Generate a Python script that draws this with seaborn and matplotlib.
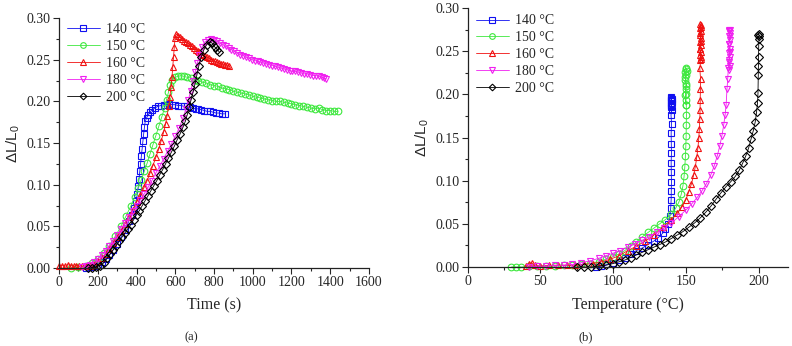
import pandas as pd
import seaborn as sns
import matplotlib.pyplot as plt
from matplotlib.ticker import MultipleLocator, FormatStrFormatter

# -------------------------------------------------------------------
# Style
# -------------------------------------------------------------------
sns.set_style("ticks")
plt.rcParams['font.family'] = ['Liberation Serif', 'DejaVu Sans']
plt.rcParams['mathtext.fontset'] = 'custom'
plt.rcParams['mathtext.rm'] = 'Liberation Sans'
plt.rcParams['mathtext.it'] = 'Liberation Sans:italic'
plt.rcParams['font.size'] = 10

labels = ["140 °C", "150 °C", "160 °C", "180 °C", "200 °C"]
colors = ["#1010f0", "#3ee83e", "#f01010", "#f020f0", "#000000"]
markers = ["s", "o", "^", "v", "D"]

# -------------------------------------------------------------------
# (a) strain vs time
# -------------------------------------------------------------------
t_140 = [140, 160, 180, 200, 220, 240, 260, 280, 300, 320, 340, 360, 375, 388, 398, 404, 409, 413, 417, 421,
         425, 429, 433, 437, 441, 445, 452, 460, 470, 480, 495, 510, 525, 540, 555, 570, 585, 600, 615, 630,
         645, 660, 675, 690, 705, 720, 735, 750, 765, 780, 795, 810, 825, 840, 855]
s_140 = [0.000, 0.001, 0.002, 0.004, 0.007, 0.011, 0.016, 0.022, 0.029, 0.037, 0.046, 0.056, 0.064, 0.072, 0.080,
         0.089, 0.098, 0.107, 0.116, 0.125, 0.134, 0.143, 0.152, 0.161, 0.169, 0.176, 0.180, 0.184, 0.187, 0.190,
         0.192, 0.194, 0.195, 0.196, 0.196, 0.197, 0.196, 0.196, 0.195, 0.195, 0.194, 0.194, 0.193, 0.192, 0.191,
         0.191, 0.190, 0.189, 0.188, 0.188, 0.187, 0.186, 0.186, 0.185, 0.185]

t_150 = [60, 100, 140, 170, 200, 230, 260, 290, 320, 345, 370, 390, 410, 425, 440, 455, 470, 485, 500, 515,
         530, 545, 555, 565, 575, 585, 600, 615, 630, 645, 660, 680, 700, 720, 740, 760, 780, 800, 820, 840,
         860, 880, 900, 920, 940, 960, 980, 1000, 1020, 1040, 1060, 1080, 1100, 1120, 1140, 1160, 1180, 1200,
         1220, 1240, 1260, 1280, 1300, 1320, 1340, 1360, 1380, 1400, 1420, 1440]
s_150 = [0.000, 0.001, 0.003, 0.006, 0.011, 0.018, 0.027, 0.038, 0.050, 0.062, 0.074, 0.085, 0.096, 0.106, 0.116,
         0.126, 0.137, 0.148, 0.159, 0.170, 0.181, 0.192, 0.202, 0.211, 0.220, 0.226, 0.229, 0.230, 0.231, 0.230,
         0.229, 0.228, 0.226, 0.225, 0.223, 0.222, 0.220, 0.219, 0.218, 0.216, 0.215, 0.214, 0.212, 0.211, 0.210,
         0.209, 0.208, 0.206, 0.205, 0.204, 0.203, 0.202, 0.201, 0.200, 0.200, 0.199, 0.198, 0.197, 0.196, 0.195,
         0.194, 0.193, 0.192, 0.191, 0.192, 0.190, 0.189, 0.189, 0.188, 0.188]

t_160 = [0, 15, 30, 45, 60, 75, 90, 105, 120, 140, 160, 180, 200, 220, 240, 260, 280, 300, 320, 340,
         360, 380, 400, 420, 440, 455, 470, 485, 500, 515, 528, 540, 550, 558, 566, 572, 578, 583, 587, 591,
         595, 599, 605, 615, 625, 635, 645, 655, 665, 675, 685, 695, 705, 715, 725, 735, 745, 755, 765, 775,
         785, 795, 805, 815, 825, 835, 845, 855, 865, 880]
s_160 = [0.002, 0.003, 0.002, 0.004, 0.003, 0.002, 0.003, 0.002, 0.002, 0.002, 0.003, 0.005, 0.008, 0.012, 0.017,
         0.023, 0.030, 0.037, 0.045, 0.053, 0.061, 0.070, 0.079, 0.088, 0.097, 0.105, 0.114, 0.123, 0.133, 0.143,
         0.153, 0.163, 0.173, 0.183, 0.194, 0.205, 0.217, 0.229, 0.241, 0.253, 0.265, 0.276, 0.281, 0.279, 0.277,
         0.275, 0.273, 0.271, 0.270, 0.268, 0.266, 0.264, 0.262, 0.261, 0.259, 0.257, 0.256, 0.254, 0.253, 0.252,
         0.250, 0.249, 0.248, 0.247, 0.246, 0.245, 0.245, 0.244, 0.244, 0.242]

t_180 = [120, 140, 160, 180, 200, 220, 240, 260, 280, 300, 320, 340, 360, 380, 400, 420, 440, 460, 480, 500,
         520, 540, 560, 580, 600, 620, 640, 655, 668, 680, 692, 703, 714, 725, 738, 752, 770, 785, 800, 815,
         830, 845, 860, 875, 890, 905, 920, 935, 950, 965, 980, 995, 1010, 1025, 1040, 1055, 1070, 1085, 1100,
         1115, 1130, 1145, 1160, 1175, 1190, 1205, 1220, 1235, 1250, 1265, 1280, 1295, 1310, 1325, 1340, 1355,
         1370, 1380]
s_180 = [0.001, 0.002, 0.004, 0.007, 0.011, 0.016, 0.021, 0.027, 0.033, 0.040, 0.047, 0.054, 0.061, 0.068, 0.075,
         0.082, 0.089, 0.097, 0.105, 0.114, 0.122, 0.131, 0.140, 0.149, 0.158, 0.168, 0.180, 0.191, 0.202, 0.213,
         0.224, 0.235, 0.246, 0.256, 0.265, 0.271, 0.274, 0.275, 0.274, 0.272, 0.270, 0.268, 0.266, 0.264, 0.262,
         0.260, 0.258, 0.256, 0.255, 0.253, 0.252, 0.250, 0.249, 0.248, 0.247, 0.246, 0.245, 0.244, 0.243, 0.242,
         0.241, 0.240, 0.239, 0.238, 0.237, 0.236, 0.236, 0.235, 0.234, 0.233, 0.233, 0.232, 0.231, 0.231, 0.230,
         0.229, 0.228, 0.227]

t_200 = [150, 170, 190, 210, 230, 250, 265, 280, 295, 310, 325, 340, 355, 370, 385, 400, 415, 430, 445, 460,
         475, 490, 505, 520, 535, 550, 565, 580, 595, 610, 625, 640, 652, 662, 672, 682, 692, 702, 712, 722,
         734, 748, 762, 778, 790, 805, 818, 828]
s_200 = [0.000, 0.000, 0.001, 0.003, 0.006, 0.012, 0.017, 0.022, 0.027, 0.032, 0.037, 0.042, 0.047, 0.052, 0.058,
         0.064, 0.069, 0.075, 0.081, 0.087, 0.093, 0.099, 0.105, 0.112, 0.118, 0.125, 0.132, 0.139, 0.146, 0.154,
         0.161, 0.169, 0.176, 0.184, 0.193, 0.202, 0.211, 0.221, 0.232, 0.243, 0.253, 0.262, 0.268, 0.271, 0.270,
         0.265, 0.262, 0.259]

# -------------------------------------------------------------------
# (b) strain vs temperature
# -------------------------------------------------------------------
T_140 = [88, 92, 96, 100, 104, 108, 112, 116, 120, 124, 128, 131, 134, 136, 137.8, 139.0, 139.6, 139.9, 140.0,
         140.1, 140.0, 139.9, 140.1, 140.0, 139.9, 140.2, 139.8, 140.3, 139.7, 140.2, 139.8, 140.3, 139.9, 140.1,
         139.8, 140.2, 139.9, 140.1, 140.0]
e_140 = [0.000, 0.001, 0.003, 0.005, 0.008, 0.011, 0.015, 0.019, 0.022, 0.026, 0.030, 0.034, 0.039, 0.044, 0.050,
         0.059, 0.068, 0.078, 0.088, 0.099, 0.110, 0.121, 0.132, 0.143, 0.155, 0.166, 0.176, 0.182, 0.186, 0.190,
         0.193, 0.195, 0.197, 0.196, 0.194, 0.192, 0.190, 0.188, 0.185]

T_150 = [30, 33, 37, 42, 48, 54, 60, 66, 72, 78, 84, 90, 95, 100, 104, 108, 112, 116, 120, 124, 128, 132, 136,
         140, 143, 145.2, 146.8, 148.0, 148.8, 149.3, 149.7, 150.0, 150.2, 150.3, 150.4, 150.3, 149.7, 150.4,
         149.6, 150.5, 149.8, 150.3, 149.6, 150.4, 149.7, 150.2, 149.8, 150.4, 149.9, 150.1]
e_150 = [0.000, 0.000, 0.000, 0.001, 0.001, 0.001, 0.001, 0.002, 0.002, 0.003, 0.004, 0.006, 0.009, 0.012, 0.015,
         0.019, 0.024, 0.029, 0.035, 0.040, 0.045, 0.050, 0.055, 0.061, 0.068, 0.075, 0.084, 0.094, 0.105, 0.116,
         0.128, 0.140, 0.152, 0.164, 0.176, 0.188, 0.199, 0.210, 0.220, 0.227, 0.231, 0.229, 0.226, 0.222, 0.217,
         0.212, 0.206, 0.200, 0.194, 0.188]

T_160 = [40, 42, 44, 46, 50, 56, 62, 68, 74, 80, 86, 92, 98, 104, 110, 116, 122, 128, 134, 140, 144, 147.5, 150,
         152, 153.8, 155.3, 156.5, 157.5, 158.3, 158.9, 159.3, 159.6, 159.8, 159.9, 160.0, 160.1, 159.6, 160.4,
         159.5, 160.5, 159.6, 160.4, 159.5, 160.5, 159.7, 160.3, 159.5, 160.5, 159.7, 160.4, 159.6, 160.3, 159.8,
         160.2, 159.9]
e_160 = [0.001, 0.003, 0.005, 0.002, 0.001, 0.002, 0.002, 0.002, 0.002, 0.003, 0.004, 0.006, 0.009, 0.013, 0.019,
         0.024, 0.030, 0.037, 0.046, 0.055, 0.062, 0.070, 0.078, 0.087, 0.096, 0.106, 0.116, 0.127, 0.138, 0.149,
         0.160, 0.171, 0.182, 0.194, 0.206, 0.218, 0.230, 0.241, 0.252, 0.262, 0.271, 0.278, 0.281, 0.280, 0.277,
         0.273, 0.269, 0.265, 0.261, 0.257, 0.253, 0.249, 0.246, 0.243, 0.240]

T_180 = [42, 48, 54, 60, 66, 72, 78, 84, 90, 95, 100, 105, 110, 115, 120, 125, 130, 135, 140, 145, 150, 154, 158,
         161, 164, 167, 169.5, 171.5, 173.3, 174.8, 176.0, 177.0, 177.7, 178.3, 178.8, 179.2, 179.5, 180.5, 179.4,
         180.6, 179.5, 180.5, 179.4, 180.6, 179.6, 180.4, 179.5, 180.5, 179.7, 180.3, 179.8, 180.2, 180.0]
e_180 = [0.000, 0.001, 0.001, 0.002, 0.002, 0.003, 0.005, 0.007, 0.010, 0.013, 0.016, 0.019, 0.023, 0.027, 0.031,
         0.035, 0.040, 0.045, 0.051, 0.058, 0.066, 0.073, 0.081, 0.088, 0.096, 0.106, 0.117, 0.128, 0.140, 0.152,
         0.164, 0.176, 0.188, 0.206, 0.218, 0.230, 0.240, 0.249, 0.258, 0.267, 0.273, 0.275, 0.274, 0.271, 0.267,
         0.263, 0.258, 0.253, 0.248, 0.243, 0.238, 0.233, 0.228]

T_200 = [75, 80, 85, 90, 95, 100, 104, 108, 112, 116, 120, 124, 128, 132, 136, 140, 144, 148, 152, 156, 160, 164,
         167.5, 171, 174.2, 177.6, 181, 184, 186.7, 189, 191.3, 193.2, 194.8, 196.4, 197.7, 198.6, 199.3, 199.6,
         199.8, 199.9, 200.0, 200.1, 200.3, 200.4, 200.2, 199.9]
e_200 = [0.000, 0.000, 0.000, 0.001, 0.002, 0.004, 0.006, 0.008, 0.011, 0.014, 0.017, 0.020, 0.023, 0.026, 0.029,
         0.033, 0.037, 0.041, 0.046, 0.051, 0.057, 0.064, 0.071, 0.079, 0.086, 0.093, 0.099, 0.105, 0.112, 0.120,
         0.129, 0.138, 0.148, 0.158, 0.168, 0.179, 0.190, 0.201, 0.222, 0.233, 0.243, 0.256, 0.264, 0.268, 0.270,
         0.269]


def long_frame(xs, ys, xname):
    parts = []
    for lab, x, y in zip(labels, xs, ys):
        parts.append(pd.DataFrame({xname: x, "strain": y, "series": lab}))
    return pd.concat(parts, ignore_index=True)


df_time = long_frame([t_140, t_150, t_160, t_180, t_200],
                     [s_140, s_150, s_160, s_180, s_200], "time")
df_temp = long_frame([T_140, T_150, T_160, T_180, T_200],
                     [e_140, e_150, e_160, e_180, e_200], "temp")

fig = plt.figure(figsize=(7.92, 3.46), dpi=100)
ax_a = fig.add_axes([0.0745, 0.2254, 0.3914, 0.7225])
ax_b = fig.add_axes([0.5905, 0.2283, 0.404, 0.7486])

for ax, df, xcol, leg_y in [(ax_a, df_time, "time", 0.98), (ax_b, df_temp, "temp", 0.975)]:
    sns.lineplot(
        data=df, x=xcol, y="strain", hue="series", style="series",
        hue_order=labels, style_order=labels,
        palette=dict(zip(labels, colors)), markers=dict(zip(labels, markers)),
        dashes=False, estimator=None, sort=False, legend=False,
        linewidth=0.6, markersize=4.8, ax=ax,
    )
    # hollow markers in the line colour
    for line, c, m in zip(ax.lines, colors, markers):
        line.set_markerfacecolor("none")
        line.set_markeredgecolor(c)
        line.set_markeredgewidth(0.8)
        line.set_clip_on(False)
        if m == "D":
            line.set_markersize(4.0)

    ax.legend(ax.lines[:5], labels, loc="upper left", bbox_to_anchor=(0.025, leg_y),
              frameon=False, handlelength=2.4, handletextpad=0.4, labelspacing=0.28,
              borderaxespad=0, borderpad=0, fontsize=10, markerscale=0.85)

    ax.set_ylim(0, 0.30)
    ax.yaxis.set_major_locator(MultipleLocator(0.05))
    ax.yaxis.set_minor_locator(MultipleLocator(0.025))
    ax.yaxis.set_major_formatter(FormatStrFormatter("%.2f"))
    ax.set_ylabel(r"$\Delta\mathrm{L/L_0}$", fontsize=11, labelpad=3)
    ax.tick_params(which="major", direction="out", length=4, width=0.8, labelsize=10, pad=2)
    ax.tick_params(which="minor", direction="out", length=2, width=0.8)
    sns.despine(ax=ax)
    for sp in ["left", "bottom"]:
        ax.spines[sp].set_linewidth(0.9)
        ax.spines[sp].set_color("#222222")

ax_a.set_xlim(0, 1600)
ax_a.xaxis.set_major_locator(MultipleLocator(200))
ax_a.xaxis.set_minor_locator(MultipleLocator(100))
ax_a.set_xlabel("Time (s)", fontsize=11.5, labelpad=6)

ax_b.set_xlim(0, 220)
ax_b.xaxis.set_major_locator(MultipleLocator(50))
ax_b.xaxis.set_minor_locator(MultipleLocator(25))
ax_b.set_xlabel("Temperature (°C)", fontsize=11.5, labelpad=6)

fig.text(0.241, 0.026, "(a)", ha="center", va="center", fontsize=9)
fig.text(0.739, 0.026, "(b)", ha="center", va="center", fontsize=9)

fig.savefig("out.png", dpi=100)
